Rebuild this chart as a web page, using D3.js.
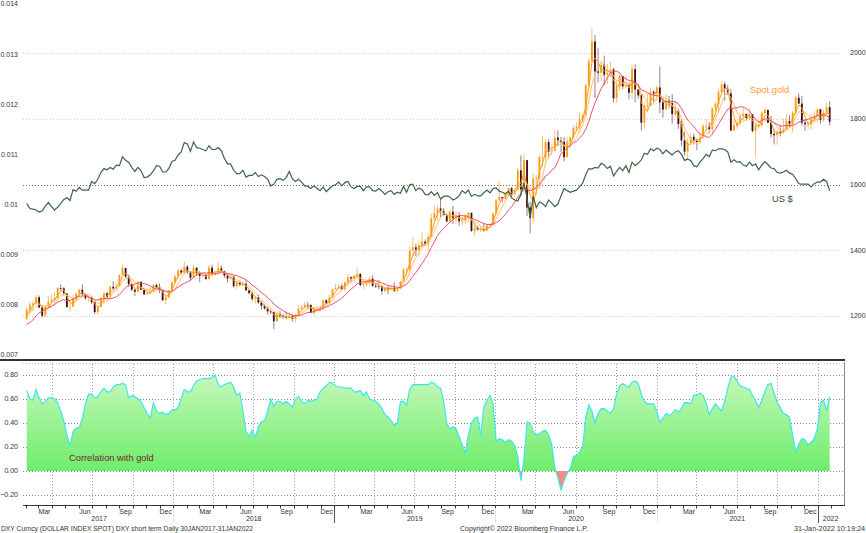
<!DOCTYPE html>
<meta charset="utf-8">
<style>
	body { margin: 0; background: #fff; }
	svg text { font-family: "Liberation Sans", Arial, sans-serif; }
	.tick { font-size: 7px; fill: #333; }
	.lbl { font-size: 9.3px; }
	.foot { font-size: 7px; fill: #333; }
</style>
<script src="https://cdn.jsdelivr.net/npm/d3@7"></script>
<svg id="chart" width="866" height="533"></svg>
<script>

	// weekly closes (Fridays, 3 Feb 2017 - 28 Jan 2022)
	var goldStart = 1191;
	var goldPrior = [1177, 1160, 1134, 1133, 1151, 1173, 1196, 1210, 1191]; // Dec 2016 - Jan 2017, only for the averages

	var goldClose = [
		1220,1234,1238,1257,1226,1201,1229,1243,1249,1254,1285,1284,1268,1227,1228,1254,1268,1280,1266,1254,1256,1242,1212,1228,1255,1269,1258,1289,1284,1291,1325,1346,1320,1297,1280,1274,1304,1280,1266,1269,1275,1294,1287,1280,1248,1257,1278,1303,
		1320,1338,1332,1350,1333,1316,1347,1330,1322,1324,1313,1347,1325,1332,1345,1336,1323,1314,1320,1291,1301,1294,1298,1278,1270,1252,1256,1241,1231,1223,1214,1212,1184,1206,1201,1197,1194,1200,1192,1203,1222,1227,1234,1233,1209,1222,1223,1222,1248,1238,1257,1281,
		1285,1290,1282,1303,1318,1314,1322,1328,1294,1298,1302,1313,1292,1291,1290,1276,1286,1280,1286,1277,1284,1305,1341,1341,1399,1409,1400,1415,1426,1419,1440,1497,1513,1527,1520,1507,1488,1517,1497,1505,1488,1490,1505,1514,1459,1468,1462,1464,1460,1476,1478,1511,
		1552,1562,1557,1571,1589,1570,1584,1643,1585,1674,1530,1498,1617,1620,1683,1683,1729,1700,1703,1743,1735,1730,1683,1730,1743,1771,1775,1798,1810,1902,1975,2035,1944,1940,1964,1934,1940,1950,1862,1900,1930,1899,1902,1879,1951,1889,1871,1788,1839,1839,1882,1877,
		1895,1850,1828,1856,1848,1814,1824,1784,1734,1700,1727,1745,1733,1729,1744,1777,1777,1769,1832,1844,1881,1905,1891,1877,1764,1781,1787,1808,1815,1802,1814,1763,1780,1781,1817,1827,1788,1754,1750,1761,1757,1768,1793,1783,1818,1864,1846,1788,1783,1783,1798,1808,1829,
		1797,1818,1835,1791
	];

	var goldHigh = [
		1226,1244,1245,1264,1263,1233,1233,1261,1264,1273,1288,1296,1288,1270,1237,1265,1270,1283,1296,1268,1260,1259,1244,1230,1257,1274,1274,1294,1306,1299,1326,1357,1347,1326,1299,1282,1306,1306,1283,1285,1288,1297,1299,1299,1280,1261,1279,1304,
		1326,1343,1344,1366,1355,1337,1356,1341,1337,1330,1329,1355,1356,1337,1365,1354,1338,1326,1323,1322,1307,1308,1304,1309,1280,1274,1262,1265,1246,1235,1228,1219,1213,1214,1215,1207,1213,1211,1205,1207,1233,1233,1243,1243,1237,1225,1230,1230,1250,1251,1264,1283,
		1298,1298,1298,1304,1326,1320,1326,1346,1330,1303,1310,1320,1324,1297,1310,1293,1288,1290,1290,1302,1287,1306,1347,1348,1411,1439,1420,1428,1453,1433,1452,1510,1535,1538,1555,1528,1510,1522,1535,1519,1517,1500,1509,1516,1513,1476,1474,1474,1480,1480,1482,1514,
		1555,1611,1560,1574,1590,1593,1586,1649,1689,1692,1675,1547,1635,1630,1690,1747,1738,1738,1722,1765,1765,1745,1745,1745,1746,1780,1789,1818,1815,1906,1984,2075,2055,2015,1977,1992,1967,1973,1955,1917,1933,1918,1932,1910,1965,1966,1890,1875,1848,1875,1896,1887,
		1900,1959,1864,1875,1870,1875,1855,1830,1797,1760,1740,1755,1755,1740,1758,1785,1798,1790,1834,1853,1890,1913,1912,1903,1891,1800,1795,1818,1834,1815,1832,1813,1783,1795,1823,1834,1827,1809,1770,1765,1781,1800,1814,1811,1823,1870,1877,1870,1799,1792,1815,1823,1831,
		1830,1828,1848,1854
	];

	var goldLow = [
		1188,1205,1216,1234,1223,1195,1196,1228,1238,1241,1253,1276,1262,1226,1214,1228,1248,1258,1265,1250,1243,1237,1205,1204,1226,1243,1252,1252,1280,1280,1290,1323,1315,1288,1275,1260,1273,1279,1264,1264,1266,1270,1283,1270,1245,1236,1254,1276,
		1300,1313,1326,1329,1328,1307,1316,1322,1303,1316,1309,1309,1321,1321,1325,1336,1316,1302,1310,1286,1282,1290,1290,1276,1265,1246,1238,1237,1219,1219,1204,1206,1160,1183,1194,1192,1190,1193,1183,1182,1200,1217,1222,1220,1209,1202,1220,1215,1215,1236,1236,1256,
		1279,1281,1278,1276,1297,1303,1306,1320,1290,1282,1290,1292,1288,1285,1281,1266,1272,1266,1279,1273,1273,1281,1305,1322,1335,1382,1383,1381,1413,1413,1400,1438,1480,1490,1500,1506,1484,1485,1480,1480,1474,1476,1480,1485,1456,1445,1460,1454,1457,1460,1470,1475,
		1510,1548,1546,1549,1562,1560,1563,1582,1565,1576,1504,1451,1481,1567,1588,1654,1660,1680,1690,1700,1717,1698,1670,1684,1711,1742,1762,1757,1790,1804,1890,1969,1863,1910,1913,1902,1906,1927,1849,1848,1885,1890,1893,1859,1860,1850,1861,1764,1770,1825,1847,1850,
		1855,1817,1803,1834,1832,1784,1808,1769,1717,1688,1676,1718,1722,1705,1723,1738,1765,1755,1756,1808,1822,1880,1855,1872,1764,1767,1769,1780,1796,1794,1796,1758,1684,1770,1774,1810,1787,1742,1722,1721,1746,1755,1765,1773,1759,1812,1845,1779,1763,1767,1765,1789,1790,
		1785,1791,1810,1780
	];

	// DXY index; the left axis shows 1 / DXY
	var usd = [
		99.8,100.8,100.9,101.1,101.5,101.3,100.3,99.6,100.4,101.1,100.5,99.8,99.0,98.6,99.2,97.1,97.4,96.7,97.2,97.2,97.2,95.6,96.0,95.2,94.0,93.3,93.5,93.1,93.4,92.7,92.8,91.3,91.9,92.2,93.1,93.8,93.1,93.7,94.9,94.8,94.4,93.7,92.8,92.9,93.9,93.9,93.3,92.1,
		91.9,91.0,90.5,89.0,89.2,90.4,88.9,89.8,89.9,90.1,90.3,89.5,90.1,90.1,89.8,90.3,91.6,92.5,92.5,93.6,94.2,94.2,93.6,94.8,94.5,94.5,94.0,94.7,94.4,94.7,95.2,96.4,96.1,95.2,95.1,95.4,94.9,93.8,95.1,95.6,95.2,95.7,96.4,96.5,96.9,96.4,96.9,97.3,96.6,97.5,96.9,96.4,
		96.2,95.7,96.4,95.8,95.6,96.6,96.9,96.5,96.5,97.3,96.6,96.6,97.3,97.4,96.9,97.4,98.0,97.5,97.3,98.0,97.6,97.8,96.5,97.6,96.2,96.1,97.3,96.8,97.1,98.0,98.1,97.5,98.2,97.7,98.9,98.4,98.3,98.5,99.1,98.8,98.3,97.3,97.8,97.2,98.4,98.0,98.3,98.3,97.7,97.2,97.7,96.9,
		96.8,97.4,97.6,97.9,97.4,98.7,99.1,99.3,98.1,95.9,98.7,102.8,98.4,100.6,99.5,99.8,100.4,99.1,99.7,100.4,99.9,98.3,96.9,97.3,97.6,97.4,97.2,96.6,95.9,94.4,93.3,93.4,93.1,93.2,92.4,92.7,93.3,92.9,94.6,93.8,93.1,93.7,92.8,94.0,92.2,92.8,92.4,91.8,90.7,90.9,90.0,90.3,
		89.9,90.1,90.8,90.2,90.6,91.0,90.5,90.3,90.9,91.9,91.7,91.9,92.8,93.0,92.2,91.6,90.9,91.3,90.2,90.3,90.0,90.0,90.1,90.5,92.2,91.8,92.2,92.1,92.7,92.9,92.2,92.8,92.5,93.5,92.7,92.1,92.6,93.2,93.3,94.0,94.1,93.9,93.6,94.1,94.3,95.1,96.0,96.1,96.1,96.1,96.6,96.0,95.7,
		95.7,95.2,95.6,97.3
	];

	// correlation of DXY with gold
	var corr = [
		0.67,0.60,0.59,0.68,0.61,0.56,0.58,0.61,0.61,0.60,0.57,0.50,0.42,0.30,0.21,0.33,0.36,0.36,0.44,0.56,
		0.64,0.64,0.61,0.62,0.66,0.69,0.66,0.66,0.70,0.72,0.72,0.73,0.72,0.61,0.63,0.62,0.60,0.58,0.53,0.48,
		0.44,0.57,0.50,0.48,0.49,0.47,0.48,0.51,0.51,0.53,0.60,0.68,0.66,0.66,0.71,0.75,0.76,0.77,0.77,0.77,
		0.78,0.80,0.72,0.70,0.72,0.73,0.74,0.70,0.63,0.65,0.50,0.33,0.29,0.34,0.28,0.37,0.41,0.42,0.50,0.60,
		0.54,0.58,0.58,0.56,0.58,0.56,0.53,0.60,0.62,0.58,0.56,0.59,0.58,0.59,0.60,0.66,0.69,0.71,0.74,0.73,
		0.71,0.70,0.70,0.69,0.69,0.69,0.66,0.66,0.67,0.63,0.66,0.60,0.59,0.58,0.56,0.52,0.47,0.45,0.42,0.38,
		0.40,0.58,0.58,0.55,0.68,0.72,0.72,0.72,0.72,0.72,0.72,0.74,0.73,0.70,0.69,0.58,0.40,0.35,0.37,0.35,
		0.29,0.22,0.15,0.30,0.40,0.44,0.45,0.30,0.53,0.59,0.63,0.56,0.25,0.27,0.26,0.24,0.26,0.25,0.21,0.12,
		-0.08,0.10,0.41,0.40,0.33,0.30,0.31,0.33,0.34,0.30,0.22,0.03,-0.06,-0.16,-0.08,-0.02,0.02,0.12,0.13,0.16,
		0.20,0.45,0.55,0.50,0.40,0.48,0.52,0.52,0.50,0.48,0.52,0.64,0.71,0.73,0.71,0.70,0.74,0.75,0.73,0.64,
		0.58,0.56,0.56,0.56,0.50,0.41,0.44,0.48,0.46,0.48,0.51,0.49,0.52,0.57,0.57,0.56,0.63,0.63,0.65,0.63,
		0.57,0.47,0.52,0.56,0.53,0.50,0.58,0.69,0.78,0.79,0.75,0.71,0.70,0.69,0.68,0.63,0.59,0.53,0.59,0.66,
		0.72,0.73,0.65,0.57,0.53,0.48,0.47,0.45,0.30,0.16,0.22,0.27,0.26,0.22,0.24,0.27,0.35,0.57,0.59,0.50,
		0.62
	];

	var leftTicks = [0.007, 0.008, 0.009, 0.01, 0.011, 0.012, 0.013, 0.014];
	var rightTicks = [1200, 1400, 1600, 1800, 2000];
	var corrTicks = [-0.2, 0, 0.2, 0.4, 0.6, 0.8];
	var monthLabels = ["Mar", "Jun", "Sep", "Dec"];
	var yearLabels = ["2017", "2018", "2019", "2020", "2021", "2022"];

	var svg = d3.select("#chart");
	var dates = d3.timeFriday.range(new Date(2017, 1, 3), new Date(2022, 0, 29));

	var x = d3.scaleTime()
		.domain([new Date(2017, 0, 30), new Date(2022, 0, 31)])
		.range([25, 831]);
	var yL = d3.scaleLinear().domain([0.007, 0.014]).range([355, 4]);
	var yR = d3.scaleLinear().domain([1200, 2000]).range([316, 53]);
	var yC = d3.scaleLinear().domain([-0.2, 0.8]).range([495, 375]);

	function crisp(v) { return Math.round(v) + 0.5; }

	// ---- top panel ----
	svg.append("g").selectAll("line").data(rightTicks).enter().append("line")
		.attr("x1", 23).attr("x2", 840)
		.attr("y1", function(d) { return crisp(yR(d)); })
		.attr("y2", function(d) { return crisp(yR(d)); })
		.attr("stroke", function(d) { return d === 1600 ? "#6a6a6a" : "#cfcfcf"; })
		.attr("stroke-dasharray", "1,2");

	svg.append("g").selectAll("text").data(leftTicks).enter().append("text")
		.attr("class", "tick")
		.attr("x", 18).attr("y", function(d) { return yL(d); })
		.attr("dy", ".35em").attr("text-anchor", "end")
		.text(function(d) { return d === 0.01 ? "0.01" : d3.format(".3f")(d); });

	svg.append("g").selectAll("text").data(rightTicks).enter().append("text")
		.attr("class", "tick")
		.attr("x", 850).attr("y", function(d) { return yR(d); })
		.attr("dy", ".35em")
		.text(function(d) { return d; });

	var candles = dates.map(function(d, i) {
		var o = i ? goldClose[i - 1] : goldStart, c = goldClose[i];
		return { date: d, o: o, c: c,
			h: Math.max(goldHigh[i], o, c), l: Math.min(goldLow[i], o, c) };
	});

	var cg = svg.append("g");
	cg.selectAll("line").data(candles).enter().append("line")
		.attr("x1", function(d) { return x(d.date); })
		.attr("x2", function(d) { return x(d.date); })
		.attr("y1", function(d) { return yR(d.h); })
		.attr("y2", function(d) { return yR(d.l); })
		.attr("stroke", function(d) { return d.c >= d.o ? "#f7a530" : "#6b4a52"; })
		.attr("stroke-width", 0.7);
	cg.selectAll("rect").data(candles).enter().append("rect")
		.attr("x", function(d) { return x(d.date) - 0.9; })
		.attr("width", 1.8)
		.attr("y", function(d) { return yR(Math.max(d.o, d.c)); })
		.attr("height", function(d) { return Math.max(0.8, Math.abs(yR(d.o) - yR(d.c))); })
		.attr("fill", function(d) { return d.c >= d.o ? "#ff9a10" : "#3a0d18"; });

	// moving averages of the closes
	var allClose = goldPrior.concat(goldClose);
	function sma(n) {
		return goldClose.map(function(c, i) {
			var k = i + goldPrior.length;
			return d3.mean(allClose.slice(Math.max(0, k - n + 1), k + 1));
		});
	}
	var maLine = d3.line()
		.x(function(d, i) { return x(dates[i]); })
		.y(function(d) { return yR(d); });

	svg.append("path").datum(sma(5)).attr("d", maLine)
		.attr("fill", "none").attr("stroke", "#ffc06a").attr("stroke-width", 1);
	svg.append("path").datum(sma(3)).attr("d", maLine)
		.attr("fill", "none").attr("stroke", "#ff9a1a").attr("stroke-width", 1);
	svg.append("path").datum(sma(10)).attr("d", maLine)
		.attr("fill", "none").attr("stroke", "#f0506a").attr("stroke-width", 1);

	var usdLine = d3.line()
		.x(function(d, i) { return x(dates[i]); })
		.y(function(d) { return yL(1 / d); });
	svg.append("path").datum(usd).attr("d", usdLine)
		.attr("fill", "none").attr("stroke", "#3f6545").attr("stroke-width", 1.2);

	svg.append("text").attr("class", "lbl").attr("x", 750).attr("y", 92.5)
		.attr("fill", "#ff9a3a").text("Spot gold");
	svg.append("text").attr("class", "lbl").attr("x", 772).attr("y", 201.5)
		.attr("fill", "#2e4a3c").text("US $");

	// panel separator
	svg.append("line").attr("x1", 0).attr("x2", 845).attr("y1", 360).attr("y2", 360)
		.attr("stroke", "#333").attr("stroke-width", 2.2);

	// ---- lower panel ----
	var defs = svg.append("defs");
	var grad = defs.append("linearGradient").attr("id", "corrFill")
		.attr("gradientUnits", "userSpaceOnUse")
		.attr("x1", 0).attr("x2", 0).attr("y1", yC(0.8)).attr("y2", yC(0));
	grad.append("stop").attr("offset", "0%").attr("stop-color", "#c6f8ba");
	grad.append("stop").attr("offset", "100%").attr("stop-color", "#6ded6b");
	defs.append("clipPath").attr("id", "pos").append("rect")
		.attr("x", 0).attr("y", 0).attr("width", 866).attr("height", yC(0));
	defs.append("clipPath").attr("id", "neg").append("rect")
		.attr("x", 0).attr("y", yC(0)).attr("width", 866).attr("height", 100);

	svg.append("line").attr("x1", 23).attr("x2", 844).attr("y1", 363.5).attr("y2", 363.5)
		.attr("stroke", "#bbb").attr("stroke-dasharray", "1,2");

	var quarters = d3.timeMonth.range(new Date(2017, 1, 1), new Date(2022, 1, 1))
		.filter(function(m) { return m.getMonth() % 3 === 0; });
	svg.append("g").selectAll("line").data(quarters).enter().append("line")
		.attr("x1", function(d) { return crisp(x(d)); })
		.attr("x2", function(d) { return crisp(x(d)); })
		.attr("y1", 364).attr("y2", 505)
		.attr("stroke", "#9a9a9a").attr("stroke-dasharray", "1,2");

	svg.append("g").selectAll("line").data(corrTicks).enter().append("line")
		.attr("x1", 23).attr("x2", 844)
		.attr("y1", function(d) { return crisp(yC(d)); })
		.attr("y2", function(d) { return crisp(yC(d)); })
		.attr("stroke", "#8a8a8a").attr("stroke-dasharray", "1,2");

	var corrArea = d3.area()
		.x(function(d, i) { return x(dates[i]); })
		.y0(yC(0))
		.y1(function(d) { return yC(d); });
	var corrLine = d3.line()
		.x(function(d, i) { return x(dates[i]); })
		.y(function(d) { return yC(d); });

	svg.append("path").datum(corr).attr("d", corrArea)
		.attr("clip-path", "url(#pos)").attr("fill", "url(#corrFill)");
	svg.append("path").datum(corr).attr("d", corrArea)
		.attr("clip-path", "url(#neg)").attr("fill", "#f58a8a");
	svg.append("path").datum(corr).attr("d", corrLine)
		.attr("fill", "none").attr("stroke", "#3de6ee").attr("stroke-width", 1.2);

	svg.append("g").selectAll("text").data(corrTicks).enter().append("text")
		.attr("class", "tick")
		.attr("x", 18).attr("y", function(d) { return yC(d); })
		.attr("dy", ".35em").attr("text-anchor", "end")
		.text(function(d) { return d3.format(".2f")(d); });

	svg.append("text").attr("class", "lbl").attr("x", 69).attr("y", 461)
		.attr("fill", "#7a1f2e").text("Correlation with gold");

	// frame and time axis
	svg.append("line").attr("x1", 844.5).attr("x2", 844.5).attr("y1", 362).attr("y2", 505)
		.attr("stroke", "#888");
	svg.append("line").attr("x1", 23).attr("x2", 845).attr("y1", 505.5).attr("y2", 505.5)
		.attr("stroke", "#333");

	var months = d3.timeMonth.range(new Date(2017, 1, 1), new Date(2022, 1, 2));
	svg.append("g").selectAll("line").data(months).enter().append("line")
		.attr("x1", function(d) { return crisp(x(d)); })
		.attr("x2", function(d) { return crisp(x(d)); })
		.attr("y1", 505).attr("y2", 508.5)
		.attr("stroke", "#333");

	var labelMonths = months.filter(function(m) { return m.getMonth() % 3 === 2; });
	svg.append("g").selectAll("text").data(labelMonths).enter().append("text")
		.attr("class", "tick")
		.attr("x", function(d) { return x(new Date(d.getFullYear(), d.getMonth(), 15)); })
		.attr("y", 513.5).attr("text-anchor", "middle")
		.attr("fill", function(d) { return d.getMonth() === 11 ? "#6b2a3a" : "#333"; })
		.text(function(d) { return monthLabels[(d.getMonth() - 2) / 3]; });

	var dom = x.domain();
	svg.append("g").selectAll("line").data(yearLabels.slice(1)).enter().append("line")
		.attr("x1", function(d) { return crisp(x(new Date(+d, 0, 1))); })
		.attr("x2", function(d) { return crisp(x(new Date(+d, 0, 1))); })
		.attr("y1", 508).attr("y2", 523)
		.attr("stroke", function(d) { return d === "2019" || d === "2022" ? "#555" : "#e2e2e2"; });

	svg.append("g").selectAll("text").data(yearLabels).enter().append("text")
		.attr("class", "tick")
		.attr("x", function(d) {
			var s = Math.max(new Date(+d, 0, 1), dom[0]), e = Math.min(new Date(+d + 1, 0, 1), dom[1]);
			return d === "2022" ? x(s) + 5 : x(new Date((s + e) / 2));
		})
		.attr("y", 521)
		.attr("text-anchor", function(d) { return d === "2022" ? "start" : "middle"; })
		.text(function(d) { return d; });

	svg.append("text").attr("class", "foot").attr("x", 1).attr("y", 531)
		.attr("textLength", 252).attr("lengthAdjust", "spacingAndGlyphs")
		.text("DXY Curncy (DOLLAR INDEX SPOT) DXY short term  Daily 30JAN2017-31JAN2022");
	svg.append("text").attr("class", "foot").attr("x", 460).attr("y", 531)
		.attr("textLength", 128).attr("lengthAdjust", "spacingAndGlyphs")
		.text("Copyright© 2022 Bloomberg Finance L.P.");
	svg.append("text").attr("class", "foot").attr("x", 865).attr("y", 531)
		.attr("text-anchor", "end")
		.attr("textLength", 71).attr("lengthAdjust", "spacingAndGlyphs")
		.text("31-Jan-2022 10:19:24");

</script>
